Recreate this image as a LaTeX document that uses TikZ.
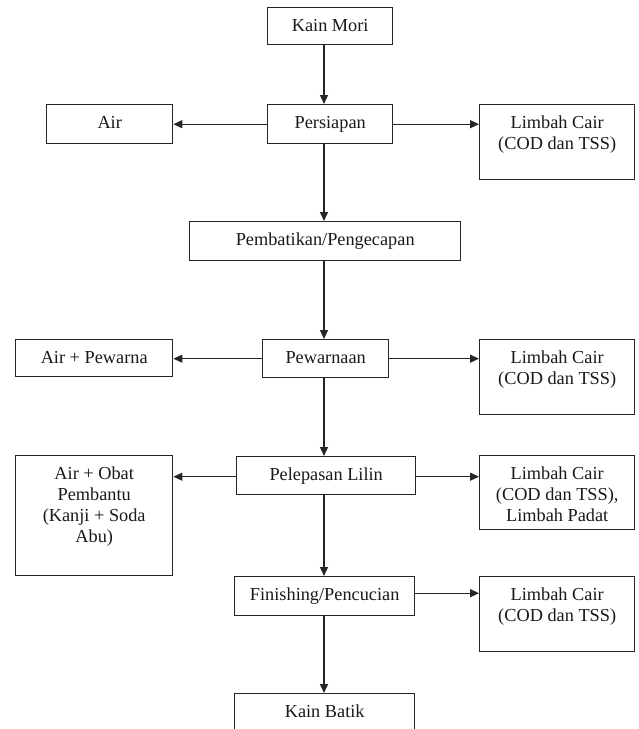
\documentclass[tikz,border=0pt]{standalone}
\usepackage{fontspec}
\setmainfont{Liberation Serif}
\usetikzlibrary{arrows.meta,calc}
\begin{document}
\begin{tikzpicture}[x=1pt,y=1pt,
  box/.style={draw=black!85, line width=1.4pt, inner sep=0pt, anchor=north west},
  lbl/.style={anchor=north, inner sep=0pt, align=center, font=\fontsize{18.3}{21}\selectfont, text=black!90},
  arr/.style={draw=black!85, line width=1.4pt, -{Triangle[length=9pt,width=8pt]}}]
\useasboundingbox (0,0) rectangle (638,-729);
\clip (0,0) rectangle (638,-729);
% boxes
\node[box, minimum width=125pt, minimum height=37pt] (km) at (267,-7) {};
\node[box, minimum width=125pt, minimum height=39pt] (ps) at (267,-104) {};
\node[box, minimum width=126pt, minimum height=39pt] (air) at (46,-104) {};
\node[box, minimum width=155pt, minimum height=75pt] (l1) at (479,-104) {};
\node[box, minimum width=271pt, minimum height=39pt] (pb) at (189,-221) {};
\node[box, minimum width=126pt, minimum height=38pt] (pw) at (262,-339) {};
\node[box, minimum width=157pt, minimum height=37pt] (ap) at (15,-339) {};
\node[box, minimum width=155pt, minimum height=75pt] (l2) at (479,-339) {};
\node[box, minimum width=179pt, minimum height=38pt] (pl) at (236,-456) {};
\node[box, minimum width=157pt, minimum height=120pt] (ao) at (15,-455) {};
\node[box, minimum width=155pt, minimum height=74pt] (l3) at (479,-455) {};
\node[box, minimum width=180pt, minimum height=39pt] (fn) at (234,-576) {};
\node[box, minimum width=155pt, minimum height=75pt] (l4) at (479,-576) {};
\node[box, minimum width=180pt, minimum height=60pt] (kb) at (234,-693) {};
% texts
\node[lbl] (tkm) at ($(km.north)+(0,-10)$) {\strut Kain Mori};
\node[lbl] (tps) at ($(ps.north)+(0,-10)$) {\strut Persiapan};
\node[lbl] (tair) at ($(air.north)+(0,-10)$) {\strut Air};
\node[lbl] (tl1) at ($(l1.north)+(0,-10)$) {\strut Limbah Cair\\(COD dan TSS)};
\node[lbl] (tpb) at ($(pb.north)+(0,-10)$) {\strut Pembatikan/Pengecapan};
\node[lbl] (tpw) at ($(pw.north)+(0,-10)$) {\strut Pewarnaan};
\node[lbl] (tap) at ($(ap.north)+(0,-10)$) {\strut Air + Pewarna};
\node[lbl] (tl2) at ($(l2.north)+(0,-10)$) {\strut Limbah Cair\\(COD dan TSS)};
\node[lbl] (tpl) at ($(pl.north)+(0,-10)$) {\strut Pelepasan Lilin};
\node[lbl] (tao) at ($(ao.north)+(0,-10)$) {\strut Air + Obat\\Pembantu\\(Kanji + Soda\\Abu)};
\node[lbl] (tl3) at ($(l3.north)+(0,-10)$) {\strut Limbah Cair\\(COD dan TSS),\\Limbah Padat};
\node[lbl] (tfn) at ($(fn.north)+(0,-10)$) {\strut Finishing/Pencucian};
\node[lbl] (tl4) at ($(l4.north)+(0,-10)$) {\strut Limbah Cair\\(COD dan TSS)};
\node[lbl] (tkb) at ($(kb.north)+(0,-10)$) {\strut Kain Batik};
% main line x
\coordinate (lx) at (324,0);
\draw[arr] (km.south -| lx) -- (ps.north -| lx);
\draw[arr] (ps.south -| lx) -- (pb.north -| lx);
\draw[arr] (pb.south -| lx) -- (pw.north -| lx);
\draw[arr] (pw.south -| lx) -- (pl.north -| lx);
\draw[arr] (pl.south -| lx) -- (fn.north -| lx);
\draw[arr] (fn.south -| lx) -- (kb.north -| lx);
% side arrows
\draw[arr] (ps.west) -- (ps.west -| air.east);
\draw[arr] (ps.east) -- (ps.east -| l1.west);
\draw[arr] (pw.west) -- (pw.west -| ap.east);
\draw[arr] (pw.east) -- (pw.east -| l2.west);
\coordinate (ply) at ($(pl.west)+(0,-1)$);
\draw[arr] (ply) -- (ply -| ao.east);
\coordinate (plyr) at ($(pl.east)+(0,-1)$);
\draw[arr] (plyr) -- (plyr -| l3.west);
\coordinate (fny) at ($(fn.east)+(0,3)$);
\draw[arr] (fny) -- (fny -| l4.west);
\end{tikzpicture}
\end{document}
